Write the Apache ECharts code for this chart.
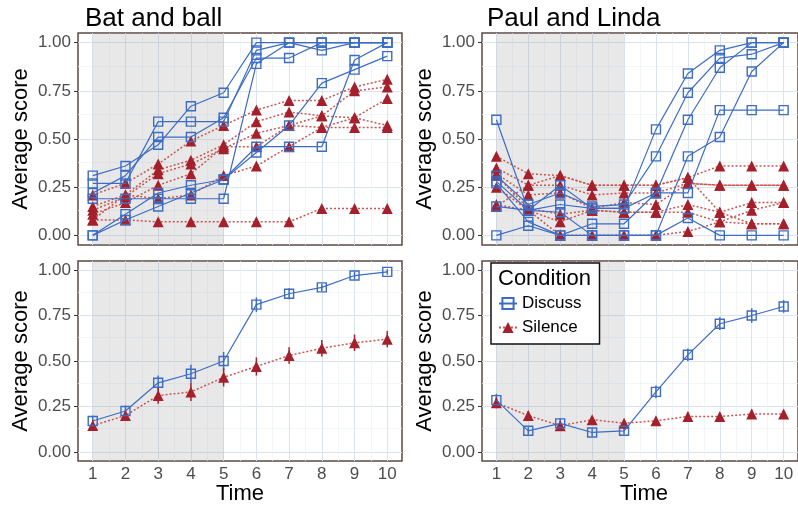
<!DOCTYPE html>
<html>
<head>
<meta charset="utf-8">
<script src="https://cdn.jsdelivr.net/npm/echarts@6/dist/echarts.min.js"></script>
<style>
html, body { margin: 0; padding: 0; background: #fff; }
#main { width: 798px; height: 510px; }
</style>
</head>
<body>
<div id="main"></div>
<script>
var times = [1, 2, 3, 4, 5, 6, 7, 8, 9, 10];
var xMinor = [1.5, 2.5, 3.5, 4.5, 5.5, 6.5, 7.5, 8.5, 9.5];
var yTicks = [0, 0.25, 0.5, 0.75, 1];
var yMinor = [0.125, 0.375, 0.625, 0.875];
var shade = [1, 5];

// Bat and ball - one row per group
var batDiscuss = [
  [0.31, 0.36, 0.47, 0.67, 0.74, 1.00, 1.00, 1.00, 1.00, 1.00],
  [0.27, 0.27, 0.59, 0.59, 0.59, 0.96, 1.00, 0.96, 1.00, 1.00],
  [0.22, 0.31, 0.51, 0.51, 0.61, 0.92, 0.92, 1.00, 1.00, 1.00],
  [0.19, 0.19, 0.19, 0.19, 0.19, 0.89, 1.00, 1.00, 1.00, 1.00],
  [0.00, 0.11, 0.22, 0.26, 0.29, 0.46, 0.46, 0.46, 0.91, 1.00],
  [0.00, 0.08, 0.15, 0.22, 0.29, 0.43, 0.57, 0.79, 0.86, 0.93]
];
var batSilence = [
  [0.21, 0.27, 0.37, 0.49, 0.57, 0.65, 0.70, 0.70, 0.77, 0.81],
  [0.15, 0.21, 0.34, 0.39, 0.47, 0.59, 0.64, 0.62, 0.75, 0.77],
  [0.13, 0.20, 0.32, 0.37, 0.45, 0.53, 0.57, 0.56, 0.61, 0.71],
  [0.11, 0.17, 0.26, 0.32, 0.46, 0.46, 0.57, 0.62, 0.61, 0.57],
  [0.08, 0.21, 0.19, 0.21, 0.31, 0.36, 0.46, 0.56, 0.56, 0.56],
  [0.08, 0.08, 0.07, 0.07, 0.07, 0.07, 0.07, 0.14, 0.14, 0.14]
];

// Paul and Linda - one row per group
var paulDiscuss = [
  [0.60, 0.13, 0.16, 0.14, 0.14, 0.55, 0.84, 0.96, 1.00, 1.00],
  [0.31, 0.16, 0.22, 0.15, 0.16, 0.41, 0.74, 0.92, 0.94, 1.00],
  [0.28, 0.13, 0.26, 0.14, 0.14, 0.22, 0.60, 0.87, 1.00, 1.00],
  [0.27, 0.07, 0.00, 0.06, 0.06, 0.22, 0.22, 0.65, 0.65, 0.65],
  [0.15, 0.13, 0.12, 0.00, 0.00, 0.00, 0.41, 0.51, 0.85, 1.00],
  [0.00, 0.05, 0.00, 0.00, 0.00, 0.00, 0.09, 0.00, 0.00, 0.00]
];
var paulSilence = [
  [0.41, 0.32, 0.31, 0.26, 0.26, 0.26, 0.30, 0.36, 0.36, 0.36],
  [0.35, 0.26, 0.26, 0.21, 0.22, 0.22, 0.27, 0.26, 0.26, 0.26],
  [0.32, 0.21, 0.22, 0.14, 0.17, 0.16, 0.27, 0.26, 0.26, 0.26],
  [0.31, 0.14, 0.11, 0.13, 0.12, 0.12, 0.16, 0.12, 0.17, 0.17],
  [0.25, 0.13, 0.07, 0.13, 0.12, 0.12, 0.12, 0.07, 0.13, 0.17],
  [0.16, 0.13, 0.00, 0.00, 0.00, 0.00, 0.02, 0.07, 0.06, 0.06],
  [0.15, 0.26, 0.31, 0.26, 0.26, 0.26, 0.30, 0.12, 0.06, 0.06]
];

// averages with error bars
var batDiscussMean = [0.17, 0.225, 0.38, 0.43, 0.50, 0.81, 0.87, 0.905, 0.97, 0.99];
var batDiscussSe = [0.03, 0.03, 0.04, 0.05, 0.05, 0.04, 0.03, 0.02, 0.02, 0.015];
var batSilenceMean = [0.145, 0.20, 0.31, 0.33, 0.41, 0.47, 0.53, 0.57, 0.60, 0.62];
var batSilenceSe = [0.03, 0.03, 0.045, 0.05, 0.05, 0.05, 0.045, 0.045, 0.045, 0.045];
var paulDiscussMean = [0.285, 0.116, 0.157, 0.107, 0.116, 0.33, 0.534, 0.705, 0.75, 0.80];
var paulDiscussSe = [0.035, 0.02, 0.03, 0.02, 0.02, 0.035, 0.035, 0.035, 0.04, 0.035];
var paulSilenceMean = [0.27, 0.20, 0.144, 0.177, 0.158, 0.171, 0.195, 0.195, 0.208, 0.208];
var paulSilenceSe = [0.03, 0.025, 0.025, 0.02, 0.02, 0.02, 0.025, 0.02, 0.025, 0.02];

var FONT = 'Liberation Sans';
var BLUE = '#3d6cc4';
var RED = '#a3202c';
var REDLINE = '#c9554f';
var MAJOR = '#dbe3ec';
var MINOR = '#eef2f6';

var chart = echarts.init(document.getElementById('main'));

var grids = [
  { left: 78, top: 33, width: 324, height: 212 },
  { left: 482, top: 33, width: 324, height: 212 },
  { left: 78, top: 261, width: 324, height: 200 },
  { left: 482, top: 261, width: 324, height: 200 }
];

function pairs(vals) {
  return times.map(function (t, i) { return [t, vals[i]]; });
}

// gridlines + shaded region behind everything
function backdrop(idx) {
  var lines = [];
  yTicks.forEach(function (v) { lines.push({ yAxis: v, lineStyle: { color: MAJOR, width: 1 } }); });
  yMinor.forEach(function (v) { lines.push({ yAxis: v, lineStyle: { color: MINOR, width: 0.7 } }); });
  times.forEach(function (v) { lines.push({ xAxis: v, lineStyle: { color: MAJOR, width: 1 } }); });
  xMinor.forEach(function (v) { lines.push({ xAxis: v, lineStyle: { color: MINOR, width: 0.7 } }); });
  return {
    type: 'line', xAxisIndex: idx, yAxisIndex: idx, data: [], silent: true,
    markLine: {
      silent: true, z: 1, symbol: ['none', 'none'], label: { show: false },
      lineStyle: { type: 'solid' }, data: lines
    },
    markArea: {
      silent: true, z: 2, itemStyle: { color: 'rgba(150,150,150,0.22)' },
      data: [[{ xAxis: shade[0] }, { xAxis: shade[1] }]]
    }
  };
}

function discussLine(idx, vals, size) {
  return {
    type: 'line', name: 'Discuss', xAxisIndex: idx, yAxisIndex: idx, z: 10,
    data: pairs(vals), symbol: 'rect', symbolSize: size,
    lineStyle: { color: BLUE, width: 1.2 },
    itemStyle: { color: 'rgba(255,255,255,0)', borderColor: BLUE, borderWidth: 1.4 }
  };
}

function silenceLine(idx, vals, size) {
  return {
    type: 'line', name: 'Silence', xAxisIndex: idx, yAxisIndex: idx, z: 9,
    data: pairs(vals), symbol: 'triangle', symbolSize: size,
    lineStyle: { color: REDLINE, width: 1.5, type: [2, 2] },
    itemStyle: { color: RED }
  };
}

function errorBars(idx, mean, se, color) {
  return {
    type: 'custom', xAxisIndex: idx, yAxisIndex: idx, z: 8, silent: true,
    data: times.map(function (t, i) { return [t, mean[i] - se[i], mean[i] + se[i]]; }),
    encode: { x: 0, y: [1, 2] },
    renderItem: function (params, api) {
      var lo = api.coord([api.value(0), api.value(1)]);
      var hi = api.coord([api.value(0), api.value(2)]);
      return {
        type: 'line',
        shape: { x1: lo[0], y1: lo[1], x2: hi[0], y2: hi[1] },
        style: { stroke: color, lineWidth: 1.5 }
      };
    }
  };
}

var xAxes = grids.map(function (g, i) {
  var bottom = i >= 2;
  return {
    type: 'value', gridIndex: i, min: 0.55, max: 10.45,
    axisLine: { show: false },
    splitLine: { show: false },
    axisTick: { show: bottom, customValues: times, length: 4, lineStyle: { color: '#333' } },
    axisLabel: {
      show: bottom, customValues: times, margin: 5,
      color: '#4d4d4d', fontSize: 17, fontFamily: FONT
    }
  };
});

var yAxes = grids.map(function (g, i) {
  return {
    type: 'value', gridIndex: i, min: -0.05, max: 1.05,
    axisLine: { show: false },
    splitLine: { show: false },
    axisTick: { show: true, customValues: yTicks, length: 4, lineStyle: { color: '#333' } },
    axisLabel: {
      customValues: yTicks, margin: 7,
      color: '#4d4d4d', fontSize: 17, fontFamily: FONT,
      formatter: function (v) { return v.toFixed(2); }
    }
  };
});

var series = [];
for (var g = 0; g < 4; g++) series.push(backdrop(g));
batDiscuss.forEach(function (v) { series.push(discussLine(0, v, 9)); });
batSilence.forEach(function (v) { series.push(silenceLine(0, v, 11)); });
paulDiscuss.forEach(function (v) { series.push(discussLine(1, v, 9)); });
paulSilence.forEach(function (v) { series.push(silenceLine(1, v, 11)); });
series.push(errorBars(2, batDiscussMean, batDiscussSe, BLUE));
series.push(errorBars(2, batSilenceMean, batSilenceSe, RED));
series.push(errorBars(3, paulDiscussMean, paulDiscussSe, BLUE));
series.push(errorBars(3, paulSilenceMean, paulSilenceSe, RED));
series.push(discussLine(2, batDiscussMean, 9));
series.push(silenceLine(2, batSilenceMean, 11));
series.push(discussLine(3, paulDiscussMean, 9));
series.push(silenceLine(3, paulSilenceMean, 11));

function vText(x, y, txt) {
  return {
    type: 'text', x: x, y: y, rotation: Math.PI / 2, z: 100,
    style: {
      text: txt, font: '22px "' + FONT + '"', fill: '#000',
      align: 'center', verticalAlign: 'middle', textAlign: 'center', textVerticalAlign: 'middle'
    }
  };
}
function hText(x, y, txt, size) {
  return {
    type: 'text', x: x, y: y, z: 100,
    style: {
      text: txt, font: size + 'px "' + FONT + '"', fill: '#000',
      align: 'center', verticalAlign: 'middle', textAlign: 'center', textVerticalAlign: 'middle'
    }
  };
}

var option = {
  animation: false,
  backgroundColor: '#fff',
  title: [
    { text: 'Bat and ball', left: 80, top: 1, textStyle: { fontSize: 26, fontWeight: 'normal', color: '#000', fontFamily: FONT } },
    { text: 'Paul and Linda', left: 482, top: 1, textStyle: { fontSize: 26, fontWeight: 'normal', color: '#000', fontFamily: FONT } }
  ],
  grid: grids.map(function (g) {
    return {
      left: g.left, top: g.top, width: g.width, height: g.height,
      show: true, backgroundColor: '#fff', borderColor: '#5b4a44', borderWidth: 1.5
    };
  }),
  xAxis: xAxes,
  yAxis: yAxes,
  legend: {
    data: ['Discuss', 'Silence'],
    orient: 'vertical', left: 491, top: 263, z: 50,
    padding: [32, 18, 8, 7], itemGap: 7, itemWidth: 18, itemHeight: 14,
    backgroundColor: '#fff', borderColor: '#111', borderWidth: 1.5,
    textStyle: { fontSize: 17, color: '#000', fontFamily: FONT }
  },
  graphic: [
    vText(21, 139, 'Average score'),
    vText(21, 361, 'Average score'),
    vText(425, 139, 'Average score'),
    vText(425, 361, 'Average score'),
    hText(240, 494, 'Time', 22),
    hText(644, 494, 'Time', 22),
    {
      type: 'text', x: 498, y: 279, z: 100,
      style: {
        text: 'Condition', font: '22px "' + FONT + '"', fill: '#000',
        align: 'left', verticalAlign: 'middle', textAlign: 'left', textVerticalAlign: 'middle'
      }
    }
  ],
  series: series
};

chart.setOption(option);
</script>
</body>
</html>
